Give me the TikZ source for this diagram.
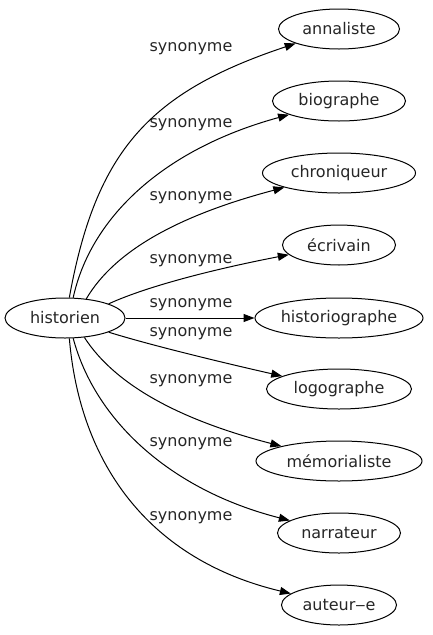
\documentclass[tikz,border=0pt]{standalone}
\usepackage{fontspec}
\setmainfont{DejaVu Sans}
\usetikzlibrary{shapes.geometric,arrows.meta}
\tikzset{
  wnode/.style={ellipse,draw,line width=1pt,inner sep=0pt,minimum height=40pt,font=\fontsize{16}{18}\selectfont,text=black!85},
  wlabel/.style={inner sep=0pt,font=\fontsize{16}{18}\selectfont,text=black!85},
  wedge/.style={line width=1pt,-{Triangle[length=11pt,width=8pt]}}
}
\begin{document}
\begin{tikzpicture}[x=1pt,y=-1pt]
\useasboundingbox (0,0) rectangle (433,635);
\node[wnode,minimum width=120pt] (h) at (65,318) {historien};
\node[wnode,minimum width=121pt] (a) at (339,29) {annaliste};
\node[wnode,minimum width=133pt] (b) at (339,101) {biographe};
\node[wnode,minimum width=153pt] (c) at (339,173) {chroniqueur};
\node[wnode,minimum width=113pt] (d) at (339,245) {écrivain};
\node[wnode,minimum width=168pt] (e) at (339,318) {historiographe};
\node[wnode,minimum width=145pt] (f) at (339,389) {logographe};
\node[wnode,minimum width=166pt] (g) at (339,461) {mémorialiste};
\node[wnode,minimum width=123pt] (n) at (339,533) {narrateur};
\node[wnode,minimum width=115pt] (k) at (339,605) {auteur‒e};
\node[wlabel] (l1) at (191,49) {synonyme};
\node[wlabel] (l2) at (191,125) {synonyme};
\node[wlabel] (l3) at (191,198) {synonyme};
\node[wlabel] (l4) at (191,261) {synonyme};
\node[wlabel] (l5) at (191,305) {synonyme};
\node[wlabel] (l6) at (191,334) {synonyme};
\node[wlabel] (l7) at (191,381) {synonyme};
\node[wlabel] (l8) at (191,444) {synonyme};
\node[wlabel] (l9) at (191,518) {synonyme};
\draw[wedge] (h.78) .. controls (96,150) and (150,92) .. (a);
\draw[wedge] (h.68) .. controls (90,220) and (160,150) .. (b);
\draw[wedge] (h.42) .. controls (115,250) and (180,215) .. (c);
\draw[wedge] (h.18) .. controls (150,285) and (220,268) .. (d);
\draw[wedge] (h.east) -- (e.west);
\draw[wedge] (h.-18) .. controls (150,345) and (220,362) .. (f);
\draw[wedge] (h.-45) .. controls (115,385) and (180,420) .. (g);
\draw[wedge] (h.-68) .. controls (95,420) and (170,490) .. (n);
\draw[wedge] (h.-78) .. controls (80,465) and (150,560) .. (k);
\end{tikzpicture}
\end{document}
